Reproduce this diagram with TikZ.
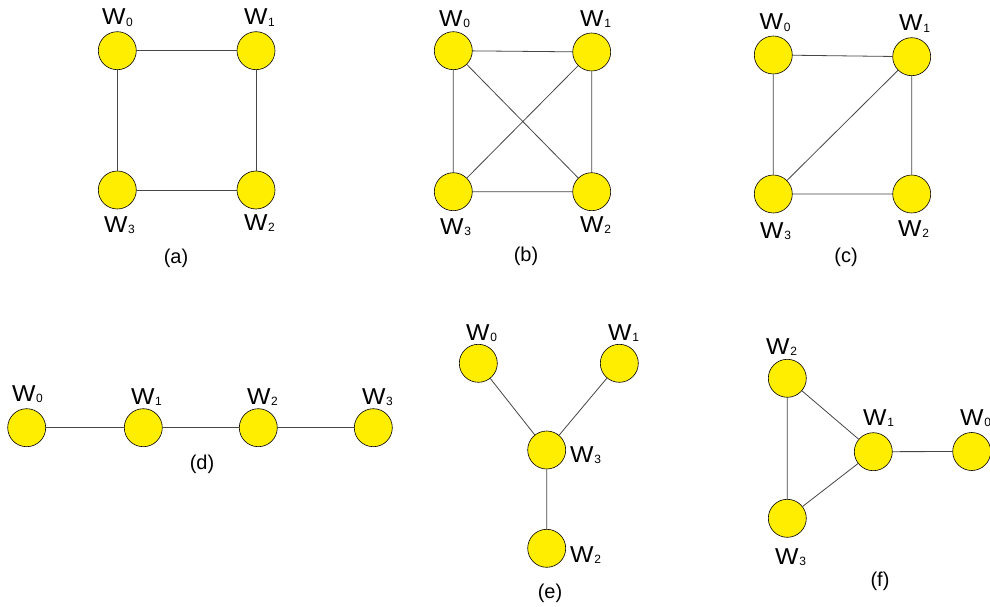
\documentclass[tikz,border=0pt]{standalone}
\usepackage{graphicx}
\usepackage{fontspec}
\setmainfont{Liberation Sans}
\definecolor{vyellow}{RGB}{255,238,0}
\definecolor{edgegray}{RGB}{70,70,70}
\newcommand{\Wlab}[1]{\scalebox{1.08}[1]{\fontsize{23}{23}\selectfont W}\kern0.6pt\raisebox{-1.2pt}{\fontsize{12}{12}\selectfont #1}}
\tikzset{
  vert/.style={circle, draw=black, line width=0.6pt, fill=vyellow, minimum size=38pt, inner sep=0pt},
  wlab/.style={anchor=base west, inner sep=0pt},
  capt/.style={font=\fontsize{20}{20}\selectfont, inner sep=0pt},
  edge/.style={draw=edgegray, line width=0.8pt}
}
\begin{document}
\begin{tikzpicture}[x=1pt, y=-1pt]
\clip (0,0) rectangle (990,607);
\fill[white] (0,0) rectangle (990,607);
% (a)
\node[vert] (a0) at (117.3,50.7) {};
\node[vert] (a1) at (256,50.7) {};
\node[vert] (a2) at (256,190) {};
\node[vert] (a3) at (117.3,190) {};
\draw[edge] (a0) -- (a1) (a1) -- (a2) (a2) -- (a3) (a3) -- (a0);
\node[wlab] (la0) at (102,25) {\Wlab{0}};
\node[wlab] (la1) at (244,25) {\Wlab{1}};
\node[wlab] (la3) at (104,232) {\Wlab{3}};
\node[wlab] (la2) at (244,230) {\Wlab{2}};
\node[capt] (ca) at (176,258) {(a)};
% (b)
\node[vert] (b0) at (453.3,50.7) {};
\node[vert] (b1) at (591.7,52) {};
\node[vert] (b2) at (591.7,191.7) {};
\node[vert] (b3) at (453.3,191.7) {};
\draw[edge] (b0) -- (b1) (b1) -- (b2) (b2) -- (b3) (b3) -- (b0) (b0) -- (b2) (b1) -- (b3);
\node[wlab] (lb0) at (439,26.5) {\Wlab{0}};
\node[wlab] (lb1) at (580,26.5) {\Wlab{1}};
\node[wlab] (lb3) at (440,234) {\Wlab{3}};
\node[wlab] (lb2) at (580,232) {\Wlab{2}};
\node[capt] (cb) at (526,256) {(b)};
% (c)
\node[vert] (c0) at (773.3,55) {};
\node[vert] (c1) at (911.7,56.7) {};
\node[vert] (c2) at (911.7,194) {};
\node[vert] (c3) at (773.3,194) {};
\draw[edge] (c0) -- (c1) (c1) -- (c2) (c2) -- (c3) (c3) -- (c0) (c1) -- (c3);
\node[wlab] (lc0) at (759.5,30) {\Wlab{0}};
\node[wlab] (lc1) at (899,31) {\Wlab{1}};
\node[wlab] (lc3) at (760,238) {\Wlab{3}};
\node[wlab] (lc2) at (898,236) {\Wlab{2}};
\node[capt] (cc) at (846,257) {(c)};
% (d)
\node[vert] (d0) at (26.7,427.7) {};
\node[vert] (d1) at (143.3,427.7) {};
\node[vert] (d2) at (258.3,427.7) {};
\node[vert] (d3) at (373.3,427.7) {};
\draw[edge] (d0) -- (d1) (d1) -- (d2) (d2) -- (d3);
\node[wlab] (ld0) at (12,401) {\Wlab{0}};
\node[wlab] (ld1) at (131,404) {\Wlab{1}};
\node[wlab] (ld2) at (247,404) {\Wlab{2}};
\node[wlab] (ld3) at (362,404) {\Wlab{3}};
\node[capt] (cd) at (202,464) {(d)};
% (e)
\node[vert] (e0) at (478.3,363.3) {};
\node[vert] (e1) at (619.3,363.3) {};
\node[vert] (e3) at (546.7,450) {};
\node[vert] (e2) at (546.7,548.3) {};
\draw[edge] (e0) -- (e3) (e1) -- (e3) (e3) -- (e2);
\node[wlab] (le0) at (466,340) {\Wlab{0}};
\node[wlab] (le1) at (608,340) {\Wlab{1}};
\node[wlab] (le3) at (570,462) {\Wlab{3}};
\node[wlab] (le2) at (570,562) {\Wlab{2}};
\node[capt] (ce) at (550,593) {(e)};
% (f)
\node[vert] (f2) at (787.3,378.3) {};
\node[vert] (f1) at (873.3,451.7) {};
\node[vert] (f0) at (971.7,451.5) {};
\node[vert] (f3) at (787.3,518.3) {};
\draw[edge] (f2) -- (f1) (f1) -- (f3) (f3) -- (f2) (f1) -- (f0);
\node[wlab] (lf2) at (766,354) {\Wlab{2}};
\node[wlab] (lf1) at (863,425) {\Wlab{1}};
\node[wlab] (lf0) at (960,425) {\Wlab{0}};
\node[wlab] (lf3) at (775,564) {\Wlab{3}};
\node[capt] (cf) at (880,581) {(f)};
\end{tikzpicture}
\end{document}
